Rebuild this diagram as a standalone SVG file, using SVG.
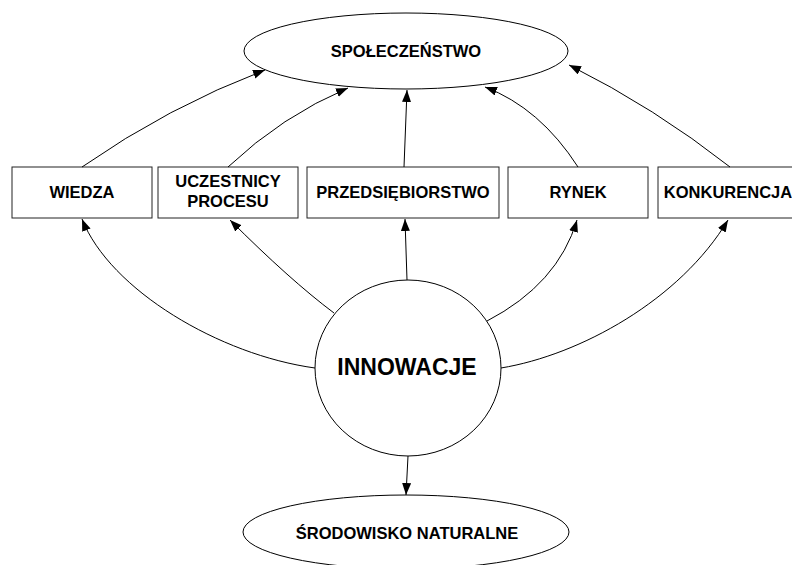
<svg xmlns="http://www.w3.org/2000/svg" width="792" height="565" viewBox="0 0 792 565">
<style>
.shape{fill:#fff;stroke:#000;stroke-width:1}
.box{fill:#fff;stroke:#222;stroke-width:1}
.lbl{font-family:"Liberation Sans",Arial,sans-serif;font-weight:bold;font-size:16.5px;text-anchor:middle;fill:#000}
.big{font-size:23px}
.conn{fill:none;stroke:#000;stroke-width:1;marker-end:url(#ah)}
</style>
<defs>
<marker id="ah" markerUnits="userSpaceOnUse" markerWidth="13" markerHeight="10" refX="12" refY="4.5" orient="auto" viewBox="0 0 13 10">
<path d="M0,0 L12,4.5 L0,9 z" fill="#000"/>
</marker>
</defs>
<rect width="792" height="565" fill="#fff"/>
<g id="spoleczenstwo">
<ellipse class="shape" cx="406" cy="51" rx="162" ry="38"/>
<text class="lbl" x="406" y="57">SPOŁECZEŃSTWO</text>
</g>
<g id="wiedza">
<rect class="box" x="12" y="167" width="140" height="51"/>
<text class="lbl" x="82" y="198">WIEDZA</text>
</g>
<g id="uczestnicy">
<rect class="box" x="158" y="167" width="140" height="51"/>
<text class="lbl" x="228" y="187">UCZESTNICY</text>
<text class="lbl" x="228" y="207">PROCESU</text>
</g>
<g id="przedsiebiorstwo">
<rect class="box" x="307" y="167" width="192" height="51"/>
<text class="lbl" x="403" y="198">PRZEDSIĘBIORSTWO</text>
</g>
<g id="rynek">
<rect class="box" x="508" y="167" width="140" height="51"/>
<text class="lbl" x="578" y="198">RYNEK</text>
</g>
<g id="konkurencja">
<rect class="box" x="658" y="167" width="140" height="51"/>
<text class="lbl" x="728" y="198">KONKURENCJA</text>
</g>
<g id="innowacje">
<ellipse class="shape" cx="408" cy="368" rx="93" ry="88"/>
<text class="lbl big" x="407" y="375">INNOWACJE</text>
</g>
<g id="srodowisko">
<ellipse class="shape" cx="406" cy="532" rx="163" ry="37"/>
<text class="lbl" x="407" y="539">ŚRODOWISKO NATURALNE</text>
</g>
<g id="connectors">
<path class="conn" d="M82,167 Q168,107 265,70"/>
<path class="conn" d="M228,167 Q282,116 348,88"/>
<path class="conn" d="M404,167 L407,90"/>
<path class="conn" d="M578,167 Q540,108 485,87"/>
<path class="conn" d="M730,167 Q655,108 569,65"/>
<path class="conn" d="M315,368 C220,355 110,290 82,219"/>
<path class="conn" d="M334,313 Q290,280 230,220"/>
<path class="conn" d="M407,280 L405,219"/>
<path class="conn" d="M487,321 Q558,284 577,220"/>
<path class="conn" d="M501,368 C580,355 680,300 728,220"/>
<path class="conn" d="M408,456 L406,495"/>
</g>
</svg>
